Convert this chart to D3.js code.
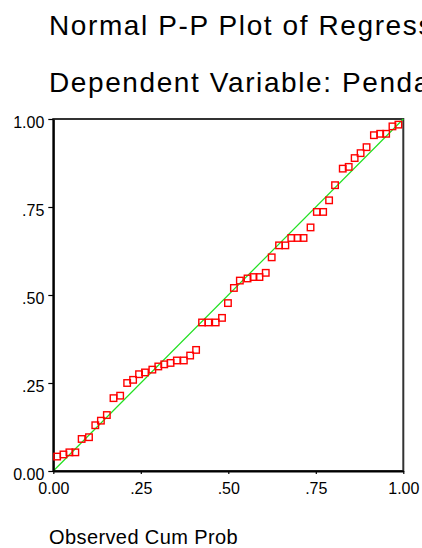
<!DOCTYPE html>
<html>
<head>
<meta charset="utf-8">
<script src="https://cdn.jsdelivr.net/npm/d3@7"></script>
<style>
  body { margin: 0; background: #fff; }
  svg { display: block; font-family: Arial, "Liberation Sans", sans-serif; }
</style>
</head>
<body>
<svg id="pp"></svg>
<script>
// observed vs expected cumulative probability
const observed = [0.011, 0.029, 0.046, 0.063, 0.081, 0.102, 0.120, 0.136, 0.153, 0.172,
  0.191, 0.211, 0.228, 0.245, 0.262, 0.283, 0.300, 0.317, 0.335, 0.353,
  0.373, 0.391, 0.408, 0.425, 0.443, 0.464, 0.482, 0.499, 0.516, 0.533,
  0.555, 0.572, 0.589, 0.607, 0.624, 0.645, 0.663, 0.680, 0.698, 0.715,
  0.735, 0.753, 0.771, 0.788, 0.805, 0.827, 0.844, 0.861, 0.878, 0.895,
  0.916, 0.934, 0.951, 0.969, 0.986];
const expected = [0.041, 0.047, 0.053, 0.053, 0.091, 0.096, 0.130, 0.143, 0.159, 0.207,
  0.214, 0.250, 0.259, 0.275, 0.280, 0.288, 0.297, 0.303, 0.307, 0.314,
  0.314, 0.328, 0.344, 0.422, 0.422, 0.422, 0.435, 0.477, 0.520, 0.541,
  0.547, 0.551, 0.551, 0.563, 0.607, 0.641, 0.641, 0.662, 0.662, 0.662,
  0.692, 0.736, 0.736, 0.769, 0.812, 0.859, 0.864, 0.889, 0.903, 0.920,
  0.954, 0.958, 0.958, 0.979, 0.984];
const tickValues = [0, 0.25, 0.5, 0.75, 1];
const tickLabels = ['0.00', '.25', '.50', '.75', '1.00'];
const titleLines = ['Normal P-P Plot of Regression Standardized Residual',
  'Dependent Variable: Pendapatan'];
const xTitle = 'Observed Cum Prob';

const W = 422, H = 548;
const plotL = 53.3, plotR = 403.3, plotT = 119, plotB = 471;

const svg = d3.select('#pp').attr('width', W).attr('height', H);

const x = d3.scaleLinear().domain([0, 1]).range([plotL, plotR]);
const y = d3.scaleLinear().domain([0, 1]).range([plotB, plotT]);
const fmt = (d) => tickLabels[tickValues.indexOf(d)];

//TITLES (the chart crops them at the right edge)
svg.selectAll('.title')
  .data(titleLines)
  .enter()
  .append('text')
  .classed('title', true)
  .attr('x', 49)
  .attr('y', (d, i) => 35 + i * 57)
  .attr('font-size', '28px')
  .attr('letter-spacing', '1.6px')
  .attr('fill', '#000')
  .text((d) => d);

//FRAME
svg.append('rect')
  .attr('x', plotL).attr('y', plotT)
  .attr('width', plotR - plotL).attr('height', plotB - plotT)
  .attr('fill', 'none')
  .attr('stroke', '#333')
  .attr('stroke-width', 2);

//REFERENCE LINE
svg.append('line')
  .attr('x1', x(0)).attr('y1', y(0))
  .attr('x2', x(1)).attr('y2', y(1))
  .attr('stroke', '#1fe01f')
  .attr('stroke-width', 1.2);

//AXES
const yAxis = svg.append('g')
  .attr('transform', `translate(${plotL},0)`)
  .call(d3.axisLeft(y).tickValues(tickValues).tickFormat(fmt).tickSize(5).tickSizeOuter(0).tickPadding(4));

const xAxis = svg.append('g')
  .attr('transform', `translate(0,${plotB})`)
  .call(d3.axisBottom(x).tickValues(tickValues).tickFormat(fmt).tickSize(3).tickSizeOuter(0).tickPadding(8));

[yAxis, xAxis].forEach((g) => {
  g.select('.domain').attr('stroke', '#000').attr('stroke-width', 2);
  g.selectAll('.tick line').attr('stroke', '#000').attr('stroke-width', 1.2);
  g.selectAll('.tick text')
    .attr('font-size', '16px')
    .attr('font-family', 'Arial, "Liberation Sans", sans-serif')
    .attr('fill', '#000');
});
yAxis.selectAll('.tick text').attr('dy', '0.5em');
xAxis.selectAll('.tick text').attr('dy', '0.72em');

//POINTS
const points = observed.map((d, i) => ({ obs: d, exp: expected[i] }));
const s = 6.5;
svg.selectAll('.pt')
  .data(points)
  .enter()
  .append('rect')
  .classed('pt', true)
  .attr('x', (d) => x(d.obs) - s / 2)
  .attr('y', (d) => y(d.exp) - s / 2)
  .attr('width', s)
  .attr('height', s)
  .attr('fill', 'none')
  .attr('stroke', '#ff0000')
  .attr('stroke-width', 1.4);

//X TITLE
svg.append('text')
  .attr('x', 49)
  .attr('y', 544)
  .attr('font-size', '20px')
  .attr('letter-spacing', '0.4px')
  .attr('fill', '#000')
  .text(xTitle);
</script>
</body>
</html>
